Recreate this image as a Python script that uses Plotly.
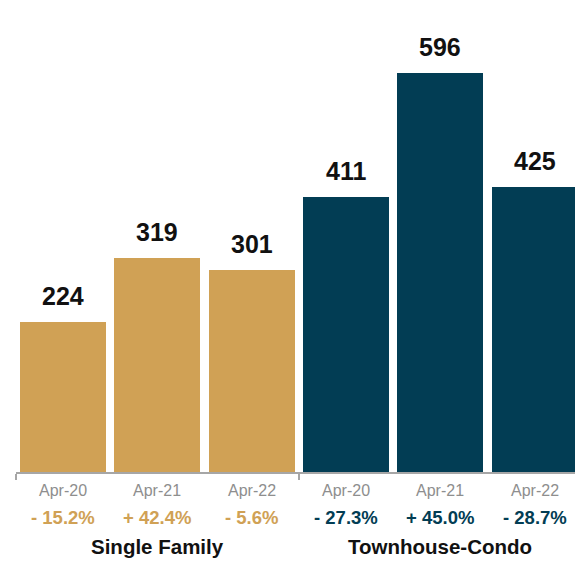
import plotly.graph_objects as go

# Closed sales by month, two property types
periods = ["Apr-20", "Apr-21", "Apr-22", "Apr-20", "Apr-21", "Apr-22"]
groups = ["Single Family", "Townhouse-Condo"]
sales = [224, 319, 301, 411, 596, 425]
changes = ["- 15.2%", "+ 42.4%", "- 5.6%", "- 27.3%", "+ 45.0%", "- 28.7%"]

GOLD = "#D0A155"
TEAL = "#023D54"
colors = [GOLD] * 3 + [TEAL] * 3
x = list(range(len(sales)))

fig = go.Figure(
    go.Bar(
        x=x,
        y=sales,
        marker=dict(color=colors, line=dict(width=0)),
        width=0.912,
        hoverinfo="skip",
    )
)

FONT = "Liberation Sans, Arial, Helvetica, sans-serif"
annotations = []
for i, v in enumerate(sales):
    annotations.append(dict(
        x=i, y=v, xref="x", yref="y", text=f"<b>{v}</b>", showarrow=False,
        yanchor="bottom", yshift=10,
        font=dict(family=FONT, size=25, color="#111111"),
    ))
    annotations.append(dict(
        x=i, y=-0.039, xref="x", yref="paper", text=periods[i], showarrow=False,
        yanchor="middle", font=dict(family=FONT, size=16, color="#8e8e8e"),
    ))
    annotations.append(dict(
        x=i, y=-0.0955, xref="x", yref="paper", text=f"<b>{changes[i]}</b>",
        showarrow=False, yanchor="middle",
        font=dict(family=FONT, size=18.5, color=colors[i]),
    ))
for g, xc in zip(groups, [1, 4]):
    annotations.append(dict(
        x=xc, y=-0.158, xref="x", yref="paper", text=f"<b>{g}</b>",
        showarrow=False, yanchor="middle",
        font=dict(family=FONT, size=20.5, color="#111111"),
    ))

fig.update_layout(
    width=575,
    height=561,
    margin=dict(l=16, r=0, t=0, b=89),
    paper_bgcolor="white",
    plot_bgcolor="white",
    showlegend=False,
    bargap=0,
    annotations=annotations,
    xaxis=dict(
        range=[-0.5, 5.428],
        tickvals=[-0.5, 2.5],
        ticktext=["", ""],
        ticks="outside",
        ticklen=6,
        tickwidth=1.5,
        tickcolor="#a6a6a6",
        showline=True,
        linecolor="#a6a6a6",
        linewidth=1.5,
        showgrid=False,
        zeroline=False,
        fixedrange=True,
    ),
    yaxis=dict(
        range=[0, 704.5],
        visible=False,
        showgrid=False,
        zeroline=False,
        fixedrange=True,
    ),
)

fig.write_html("out.html", config={"displayModeBar": False})
